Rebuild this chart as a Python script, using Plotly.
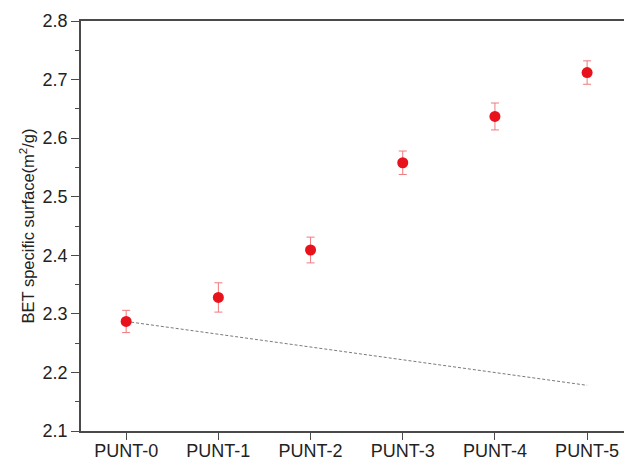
import plotly.graph_objects as go

# Samples and measured BET specific surface (m2/g)
samples = ["PUNT-0", "PUNT-1", "PUNT-2", "PUNT-3", "PUNT-4", "PUNT-5"]
bet_values = [2.287, 2.328, 2.409, 2.558, 2.637, 2.712]
bet_errors = [0.019, 0.025, 0.022, 0.020, 0.023, 0.020]

# Reference trend line between first and last sample
trend_samples = ["PUNT-0", "PUNT-5"]
trend_values = [2.287, 2.178]

y_ticks = [2.1, 2.2, 2.3, 2.4, 2.5, 2.6, 2.7, 2.8]

fig = go.Figure()

fig.add_trace(go.Scatter(
    x=trend_samples, y=trend_values, mode="lines",
    line=dict(color="#7a7a7a", width=1, dash="3px,2px"),
    showlegend=False, hoverinfo="skip",
))

fig.add_trace(go.Scatter(
    x=samples, y=bet_values, mode="markers",
    marker=dict(color="#e8121c", size=11, line=dict(width=0)),
    error_y=dict(type="data", array=bet_errors, visible=True,
                 color="#f07a7e", thickness=1, width=4),
    showlegend=False,
))

axis_color = "#4a4a4a"
font_family = "Liberation Sans, Arial, sans-serif"

fig.update_layout(
    width=624, height=461,
    margin=dict(l=81, r=0, t=21, b=30),
    paper_bgcolor="white", plot_bgcolor="white",
    font=dict(family=font_family, size=17, color="#222"),
    xaxis=dict(
        type="category", categoryorder="array", categoryarray=samples,
        range=[-0.49, 5.4], automargin=False,
        showline=True, linecolor=axis_color, linewidth=1.5, mirror=True,
        ticks="outside", ticklen=7, tickwidth=1.3, tickcolor=axis_color,
        ticklabelstandoff=-4,
        showgrid=False, zeroline=False,
        tickfont=dict(size=18, color="#222"),
    ),
    yaxis=dict(
        range=[2.1, 2.8], tickvals=y_ticks, automargin=False,
        tickformat=".1f",
        showline=True, linecolor=axis_color, linewidth=1.5,
        ticks="outside", ticklen=8, tickwidth=1.3, tickcolor=axis_color,
        minor=dict(dtick=0.05, ticks="outside", ticklen=4, tickwidth=1.3,
                   tickcolor=axis_color, showgrid=False),
        showgrid=False, zeroline=False,
        tickfont=dict(size=18, color="#222"),
        title=dict(text="BET specific surface(m<sup>2</sup>/g)",
                   font=dict(size=16.5, color="#222"), standoff=4),
    ),
)

fig.write_html("out.html")
